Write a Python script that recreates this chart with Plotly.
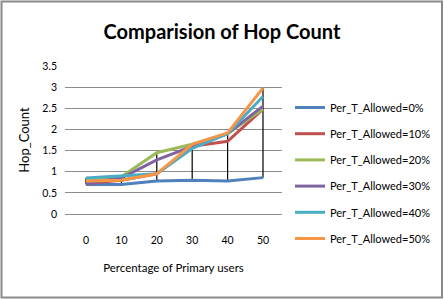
import plotly.graph_objects as go

categories = ["0", "10", "20", "30", "40", "50"]
series_names = ["Per_T_Allowed=0%", "Per_T_Allowed=10%", "Per_T_Allowed=20%",
                "Per_T_Allowed=30%", "Per_T_Allowed=40%", "Per_T_Allowed=50%"]
s0 = [0.70, 0.70, 0.78, 0.80, 0.78, 0.86]
s10 = [0.72, 0.80, 0.95, 1.60, 1.72, 2.48]
s20 = [0.80, 0.88, 1.45, 1.65, 1.90, 2.48]
s30 = [0.72, 0.85, 1.28, 1.60, 1.90, 2.55]
s40 = [0.85, 0.90, 0.95, 1.55, 1.90, 2.78]
s50 = [0.78, 0.80, 0.95, 1.65, 1.92, 2.98]
y_ticks = [0, 0.5, 1, 1.5, 2, 2.5, 3, 3.5]
y_tick_labels = ["0", "0.5", "1", "1.5", "2", "2.5", "3", "3.5"]

colors = ["#4F81BD", "#C0504D", "#9BBB59", "#8064A2", "#4BACC6", "#F79646"]
all_series = [s0, s10, s20, s30, s40, s50]

W, H = 444, 299
L, R, T, B = 65, 282, 66, 214

fig = go.Figure()

# high-low lines
for i, c in enumerate(categories):
    vals = [s[i] for s in all_series]
    fig.add_trace(go.Scatter(x=[c, c], y=[min(vals), max(vals)], mode="lines",
                             line=dict(color="black", width=1.2),
                             showlegend=False, hoverinfo="skip"))

for name, vals, col in zip(series_names, all_series, colors):
    fig.add_trace(go.Scatter(x=categories, y=vals, mode="lines", name=name,
                             legendgroup=name,
                             line=dict(color=col, width=3)))

def px_x(p):
    return (p - L) / (R - L)

def px_y(p):
    return (B - p) / (B - T)

fig.add_shape(type="rect", xref="paper", yref="paper",
              x0=px_x(1.5), x1=px_x(442), y0=px_y(297.5), y1=px_y(1.5),
              line=dict(color="#8a8a8a", width=2), layer="below")

fig.update_layout(
    width=W, height=H,
    margin=dict(l=L, r=W - R, t=T, b=H - B, pad=0, autoexpand=False),
    paper_bgcolor="white", plot_bgcolor="white",
    font=dict(family="Lato", size=10, color="black"),
    title=dict(text="<b>Comparision of Hop Count</b>", x=0.5, xanchor="center",
               y=1 - 32 / H, yanchor="middle",
               font=dict(family="Lato", size=20, color="black")),
    xaxis=dict(type="category", range=[-0.593, 5.537], showgrid=False,
               showline=False, zeroline=False, ticks="",
               ticklabelstandoff=18, tickfont=dict(size=10.5),
               title=dict(text="Percentage of Primary users", standoff=19,
                          font=dict(size=11.5))),
    yaxis=dict(range=[0, 3.5], tickvals=y_ticks, ticktext=y_tick_labels,
               showgrid=True, gridcolor="#8c8c8c", gridwidth=1,
               zeroline=True, zerolinecolor="#8c8c8c", zerolinewidth=1,
               showline=False, ticks="", ticklabelstandoff=7,
               tickfont=dict(size=10.5),
               title=dict(text="Hop_Count", standoff=9,
                          font=dict(size=13))),
    legend=dict(x=px_x(290), y=px_y(93), xanchor="left", yanchor="top",
                maxheight=260,
                font=dict(size=11), tracegroupgap=7.2, itemwidth=30,
                bgcolor="rgba(0,0,0,0)"),
)

fig.write_html("out.html",
               config={"displayModeBar": False},
               post_script="document.body.style.margin='0';document.body.style.overflow='hidden';")
